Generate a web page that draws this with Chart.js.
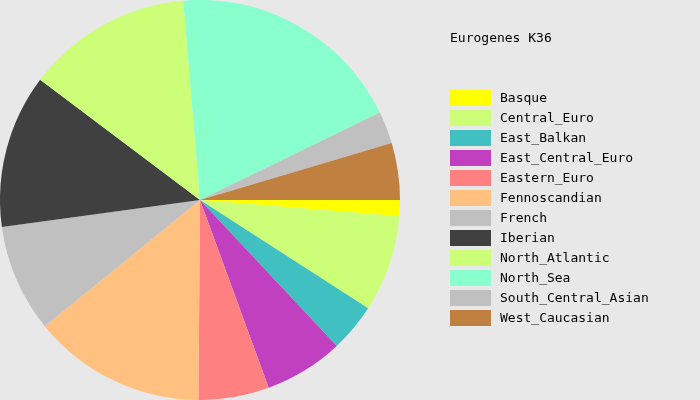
<!DOCTYPE html>
<html lang="en">
<head>
    <meta charset="UTF-8">
    <title>Eurogenes K36</title>
    <style>
        html, body {
            margin: 0;
            padding: 0;
            background-color: #e8e8e8;
        }
        .container {
            position: relative;
            width: 700px;
            height: 400px;
        }
    </style>
</head>
<body>
    <div class="container">
        <canvas id="myChart"></canvas>
    </div>

    <script src="https://cdn.jsdelivr.net/npm/chart.js"></script>
    <script>
        const title = 'Eurogenes K36';
        const populations = ['Basque', 'Central_Euro', 'East_Balkan', 'East_Central_Euro', 'Eastern_Euro',
            'Fennoscandian', 'French', 'Iberian', 'North_Atlantic', 'North_Sea', 'South_Central_Asian', 'West_Caucasian'];
        const percents = [1.3, 7.8, 3.9, 6.4, 5.7, 14.0, 8.7, 12.4, 13.4, 19.1, 2.6, 4.6];
        const colours = ['#ffff00', '#ccff77', '#40c0c0', '#c040c0', '#ff8080', '#ffc080',
            '#c0c0c0', '#404040', '#ccff77', '#88ffcc', '#c0c0c0', '#c08040'];

        // legend drawn next to the pie, one row per slice
        const sideLegend = {
            id: 'sideLegend',
            afterDraw(chart) {
                const ctx = chart.ctx;
                const ds = chart.data.datasets[0];
                ctx.save();
                ctx.font = '13px "DejaVu Sans Mono", monospace';
                ctx.textBaseline = 'middle';
                ctx.fillStyle = '#000';
                ctx.fillText(title, 450, 39);
                chart.data.labels.forEach((label, i) => {
                    const y = 90 + i * 20;
                    ctx.fillStyle = ds.backgroundColor[i];
                    ctx.fillRect(450, y, 41, 16);
                    ctx.fillStyle = '#000';
                    ctx.fillText(label, 500, y + 9);
                });
                ctx.restore();
            }
        };

        const ctx = document.getElementById('myChart').getContext('2d');
        new Chart(ctx, {
            type: 'pie',
            data: {
                labels: populations,
                datasets: [{
                    data: percents,
                    backgroundColor: colours,
                    borderWidth: 0
                }]
            },
            options: {
                responsive: true,
                maintainAspectRatio: false,
                animation: false,
                rotation: 90,
                layout: { padding: { right: 300 } },
                plugins: {
                    legend: { display: false },
                    tooltip: { enabled: false }
                }
            },
            plugins: [sideLegend]
        });
    </script>
</body>
</html>
